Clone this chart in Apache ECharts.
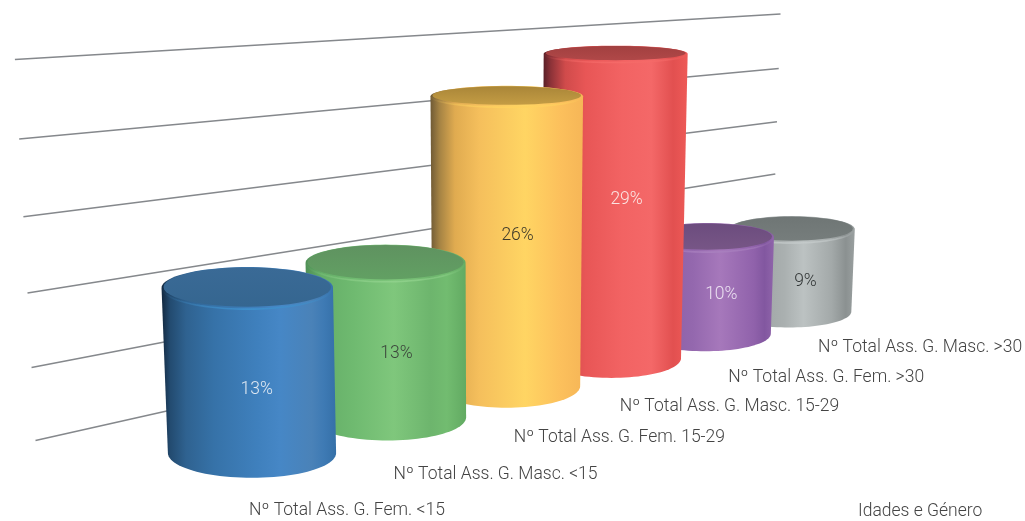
<!DOCTYPE html>
<html>
<head>
<meta charset="utf-8">
<style>html,body{margin:0;padding:0;background:#fff}#c{width:1025px;height:521px}</style>
<script src="https://cdn.jsdelivr.net/npm/echarts@6/dist/echarts.min.js"></script>
</head>
<body>
<div id="c"></div>
<script>
// ---- data ----
const categories = ['Nº Total Ass. G. Fem. <15','Nº Total Ass. G. Masc. <15','Nº Total Ass. G. Fem. 15-29','Nº Total Ass. G. Masc. 15-29','Nº Total Ass. G. Fem. >30','Nº Total Ass. G. Masc. >30'];
const values = [13, 13, 26, 29, 10, 9];
const valueLabels = ['13%','13%','26%','29%','10%','9%'];
const wallTicks = [0, 6, 12, 18, 24, 30];
const axisTitle = 'Idades e Género';

// ---- 3D look: camera constants and palette (no data) ----
const DEPTH = 0.07, FLOOR_RISE = 38.2, RADIUS = 0.58, KEY_X = 495, KEY = 8500;
const WALL = { left: { x: 35.5, y: 440.5, s: 1 }, right: { x: 772, y: 275, s: 0.685 } };
const heightTrim = [1, 1, 1, 1, 0.97, 0.97];
const categoryLabelShift = [[95,58],[108,57],[113,52],[118,48],[121,44],[131,36]];
const valueLabelShift = [[7,19],[10,13],[11,-6],[13,-6],[15,9],[15,11]];
const fonts = 'Roboto, "Noto Sans", sans-serif';
const textCol = ['#dfe8f2','#3c463c','#3f3a2a','#fbe4e2','#eadff0','#333737'];
const skin = [
  { body:[[0,'#12283f'],[.05,'#234b70'],[.14,'#2f6290'],[.3,'#3672a8'],[.55,'#3f80bd'],[.68,'#4687c6'],[.86,'#4a82b8'],[.93,'#3e7ab4'],[1,'#3570a8']], cap:['#3a6a96','#356690'], rim:'#3f90cc' },
  { body:[[0,'#4f8f55'],[.1,'#65ae68'],[.3,'#6fba70'],[.55,'#7fc77c'],[.78,'#6db56d'],[.88,'#72bc70'],[1,'#62aa62']], cap:['#5f9260','#62a063'], rim:'#8ed08a' },
  { body:[[0,'#6f5a35'],[.06,'#a58344'],[.16,'#e0ab50'],[.32,'#f5bf5c'],[.62,'#ffd563'],[.85,'#fcc05c'],[1,'#f6b657']], cap:['#a98638','#c49c44'], rim:'#ffd25e' },
  { body:[[0,'#4f1c24'],[.06,'#8c3238'],[.16,'#d04b4b'],[.3,'#e85656'],[.55,'#f26363'],[.75,'#f46868'],[.9,'#e25050'],[1,'#ee5a57']], cap:['#a24040','#b04848'], rim:'#f56a68' },
  { body:[[0,'#6d4a86'],[.15,'#8a5fa5'],[.4,'#9468ae'],[.6,'#a678bb'],[.85,'#9062ab'],[.93,'#8257a0'],[1,'#8f64aa']], cap:['#6c4c7e','#775686'], rim:'#a87fbe' },
  { body:[[0,'#7f8686'],[.2,'#9ca2a2'],[.45,'#aab0b0'],[.6,'#bcc2c2'],[.82,'#a3a9a9'],[.93,'#8b9191'],[1,'#9aa0a0']], cap:['#6f7675','#767d7c'], rim:'#c4caca' }
];

const depthScale = i => 1 / (1 + DEPTH * i);
const ryRatio = y => Math.min(0.295, 0.085 + 0.00055 * y);
const grad = (x2, y2, stops) => ({ type:'linear', x:0, y:0, x2, y2,
  colorStops: stops.map(s => ({ offset:s[0], color:s[1] })) });
function arc(cx, cy, rx, ry, a0, a1) {
  const pts = [];
  for (let k = 0; k <= 48; k++) {
    const a = a0 + (a1 - a0) * k / 48;
    pts.push([cx + rx * Math.cos(a), cy + ry * Math.sin(a)]);
  }
  return pts;
}

function renderCylinder(params, api) {
  const i = api.value(0), v = api.value(1);
  const s = depthScale(i);
  const base = api.coord([i, 0]), top = api.coord([i, v]), first = api.coord([0, 0]);
  const bx = first[0] + (base[0] - first[0]) * s;
  const by = base[1] - FLOOR_RISE * i * s;
  const h = (base[1] - top[1]) * s * heightTrim[i];
  const t = 1 + h / KEY;
  const tx = KEY_X + (bx - KEY_X) * t, ty = by - h;
  const rb = api.size([1, 0])[0] * RADIUS * s, rt = rb * t;
  const ryb = rb * ryRatio(by), ryt = rt * ryRatio(ty);
  const z = (5 - i) * 10;
  const sk = skin[i];
  const body = [].concat(arc(bx, by, rb, ryb, Math.PI, 0), arc(tx, ty, rt, ryt, 0, -Math.PI));
  const ls = categoryLabelShift[i], vs = valueLabelShift[i];
  return { type:'group', silent:true, children:[
    { type:'polygon', z2:z, shape:{ points:body }, style:{ fill:grad(1,0,sk.body) } },
    { type:'polyline', z2:z+1, shape:{ points:arc(tx, ty + 0.4, rt - 1, ryt, Math.PI, 0) },
      style:{ fill:null, lineWidth:1.6, stroke:grad(1,0,[[0,sk.rim+'00'],[.25,sk.rim+'88'],[.55,sk.rim],[.85,sk.rim+'88'],[1,sk.rim+'00']]) } },
    { type:'polygon', z2:z+2, shape:{ points:arc(tx, ty - 0.8, rt - 2, ryt - 1.2, 0, Math.PI * 2) },
      style:{ fill:grad(0,1,[[0,sk.cap[0]],[1,sk.cap[1]]]) } },
    { type:'text', z2:z+3, style:{ x:(tx+bx)/2 + vs[0], y:(ty+by)/2 + vs[1], text:valueLabels[i], align:'center', verticalAlign:'middle',
      font:'300 17.5px ' + fonts, fill:textCol[i] } },
    { type:'text', z2:100, style:{ x:bx + ls[0], y:by + ls[1], text:categories[i], align:'center', verticalAlign:'middle',
      font:'300 17.5px ' + fonts, fill:'#444' } }
  ]};
}

function renderWall(params, api) {
  const pos = api.coord([0, api.value(0)]), zero = api.coord([0, 0]);
  const raw = zero[1] - pos[1];
  const h = 0.9475 * raw + raw * raw / 7260;
  const end = e => {
    const hh = h * e.s, t = 1 + hh / KEY;
    return [KEY_X + (e.x - KEY_X) * t, e.y - hh];
  };
  const a = end(WALL.left), b = end(WALL.right);
  return { type:'line', silent:true, z2:-1, shape:{ x1:a[0], y1:a[1], x2:b[0], y2:b[1] },
    style:{ stroke:'#85888c', lineWidth:1.5 } };
}

const chart = echarts.init(document.getElementById('c'), null, { renderer:'canvas' });
chart.setOption({
  animation:false,
  backgroundColor:'#fff',
  grid:{ left:179.5, top:72, width:870, height:381, outerBoundsMode:'none' },
  xAxis:{ type:'category', data:categories, show:false },
  yAxis:{ type:'value', min:0, max:30, interval:6, show:false },
  graphic:[{ type:'text', left:858, top:503, silent:true,
    style:{ text:axisTitle, font:'300 17.5px ' + fonts, fill:'#444' } }],
  series:[
    { type:'custom', coordinateSystem:'cartesian2d', clip:false, z:1, renderItem:renderWall,
      encode:{ y:0 }, data:wallTicks.map(t => [t]) },
    { type:'custom', coordinateSystem:'cartesian2d', clip:false, z:2, renderItem:renderCylinder,
      encode:{ x:0, y:1 }, data:values.map((v, i) => [i, v]) }
  ]
});
</script>
</body>
</html>
